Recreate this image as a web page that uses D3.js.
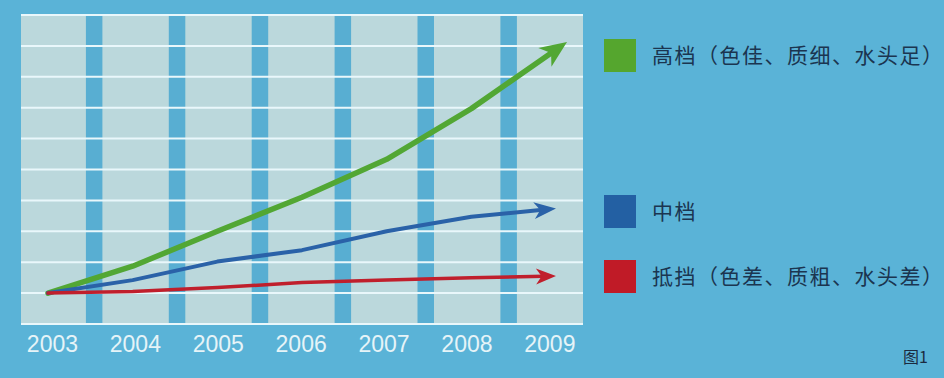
<!DOCTYPE html>
<html>
<head>
<meta charset="utf-8">
<script src="https://cdn.jsdelivr.net/npm/d3@7"></script>
<style>
body { margin: 0; background: #5ab3d7; }
svg { display: block; }
</style>
</head>
<body>
<div id="chart"></div>
<script>
var years = [2003, 2004, 2005, 2006, 2007, 2008, 2009];
var gridLevels = [-1, 0, 1, 2, 3, 4, 5, 6, 7, 8, 9];
var seriesNames = ["高档（色佳、质细、水头足）", "中档", "抵挡（色差、质粗、水头差）"];
var highValues = [0, 0.87, 2.0, 3.1, 4.33, 5.97, 8.13];
var midValues = [0, 0.42, 1.02, 1.39, 2.0, 2.47, 2.74];
var lowValues = [0, 0.05, 0.18, 0.34, 0.42, 0.5, 0.55];
// arrow tips don't all stop at the same place
var tipYears = [2009.13, 2009, 2009];

var width = 944, height = 378;
var svg = d3.select("#chart").append("svg")
    .attr("width", width)
    .attr("height", height);

svg.append("rect").attr("width", width).attr("height", height).attr("fill", "#5ab3d7");

var panel = {left: 21, right: 583, top: 15, bottom: 324};

// columns for the year labels, stripes sit on the boundaries
var xBand = d3.scaleBand().domain(years).range([11, 591.3]).paddingInner(0);
// line positions
var x = d3.scaleLinear().domain([2003, 2009]).range([48, 556]);
var y = d3.scaleLinear().domain([-1, 9]).range([panel.bottom, panel.top]);

svg.append("rect")
    .attr("x", panel.left).attr("y", panel.top)
    .attr("width", panel.right - panel.left)
    .attr("height", panel.bottom - panel.top)
    .attr("fill", "#bbd8dc");

svg.append("g").selectAll("rect")
    .data(years.slice(1))
    .enter().append("rect")
    .attr("x", function (d) { return xBand(d) - 8; })
    .attr("y", panel.top)
    .attr("width", 16.5)
    .attr("height", panel.bottom - panel.top)
    .attr("fill", "#58aed2");

svg.append("g").selectAll("line")
    .data(gridLevels)
    .enter().append("line")
    .attr("x1", panel.left).attr("x2", panel.right)
    .attr("y1", function (d) { return y(d); })
    .attr("y2", function (d) { return y(d); })
    .attr("stroke", "#e9f7fb")
    .attr("stroke-width", 2);

// year labels
var xAxis = d3.axisBottom(xBand).tickSize(0).tickPadding(0);
var axisG = svg.append("g")
    .attr("transform", "translate(0," + panel.bottom + ")")
    .call(xAxis);
axisG.select(".domain").remove();
axisG.selectAll("text")
    .attr("y", 28)
    .attr("dy", 0)
    .style("font-family", "'Liberation Sans', Arial, sans-serif")
    .style("font-size", "23px")
    .attr("fill", "#e6f4f8");

var series = [
    {name: seriesNames[0], values: highValues, tip: tipYears[0], color: "#52a734", legend: "#55a62e", sw: 5.5, len: 27, wid: 23},
    {name: seriesNames[1], values: midValues, tip: tipYears[1], color: "#2a62a8", legend: "#2360a3", sw: 4, len: 22, wid: 17},
    {name: seriesNames[2], values: lowValues, tip: tipYears[2], color: "#c01f2c", legend: "#c01b27", sw: 3.5, len: 20, wid: 16}
];

var line = d3.line()
    .x(function (d) { return d[0]; })
    .y(function (d) { return d[1]; });

var linesG = svg.append("g");
series.forEach(function (s) {
    var pts = s.values.map(function (v, i) {
        var yr = i == s.values.length - 1 ? s.tip : years[i];
        return [x(yr), y(v)];
    });
    var tip = pts[pts.length - 1];
    var prev = pts[pts.length - 2];
    var ang = Math.atan2(tip[1] - prev[1], tip[0] - prev[0]);
    // stop the shaft inside the arrow head
    var cut = s.len * 0.6;
    var shaft = pts.slice(0, -1);
    shaft.push([tip[0] - cut * Math.cos(ang), tip[1] - cut * Math.sin(ang)]);

    linesG.append("path")
        .attr("d", line(shaft))
        .attr("fill", "none")
        .attr("stroke", s.color)
        .attr("stroke-width", s.sw)
        .attr("stroke-linejoin", "round")
        .attr("stroke-linecap", "round");

    var head = "M0,0 L" + (-s.len) + "," + (-s.wid / 2) + " L" + (-s.len * 0.72) + ",0 L" + (-s.len) + "," + (s.wid / 2) + " Z";
    linesG.append("path")
        .attr("d", head)
        .attr("transform", "translate(" + tip[0] + "," + tip[1] + ") rotate(" + (ang * 180 / Math.PI) + ")")
        .attr("fill", s.color);
});

// legend
var legendY = [39, 195, 260];
var legend = svg.append("g").selectAll("g")
    .data(series)
    .enter().append("g")
    .attr("transform", function (d, i) { return "translate(604," + legendY[i] + ")"; });
legend.append("rect")
    .attr("width", 32).attr("height", 33)
    .attr("fill", function (d) { return d.legend; });
legend.append("text")
    .attr("x", 48).attr("y", 24)
    .text(function (d) { return d.name; })
    .style("font-family", "'Noto Sans CJK SC', sans-serif")
    .style("font-size", "21px")
    .style("letter-spacing", "1.5px")
    .attr("fill", "#1b3550");

svg.append("text")
    .attr("x", 903).attr("y", 363)
    .text("图1")
    .style("font-family", "'Noto Sans CJK SC', sans-serif")
    .style("font-size", "16px")
    .attr("fill", "#1b2a40");
</script>
</body>
</html>
